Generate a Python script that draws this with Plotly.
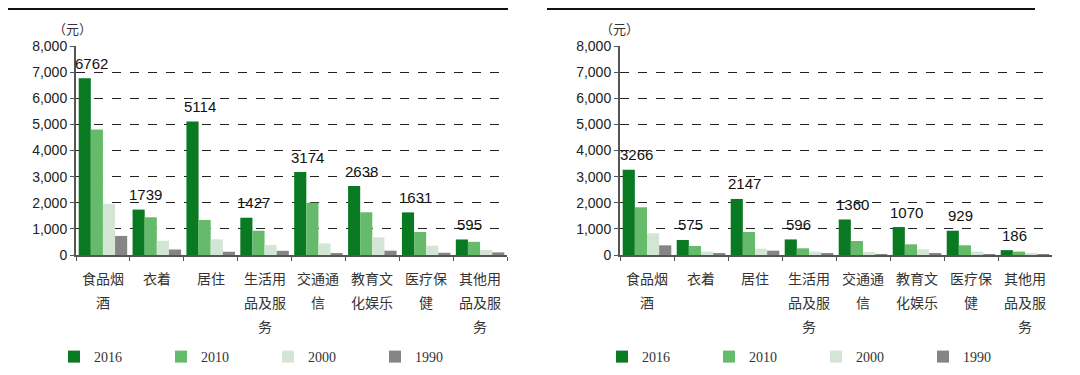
import plotly.graph_objects as go

categories = ["食品烟酒", "衣着", "居住", "生活用品及服务", "交通通信", "教育文化娱乐", "医疗保健", "其他用品及服务"]
label_lines = [["食品烟", "酒"], ["衣着"], ["居住"], ["生活用", "品及服", "务"],
               ["交通通", "信"], ["教育文", "化娱乐"], ["医疗保", "健"], ["其他用", "品及服", "务"]]
years = ["2016", "2010", "2000", "1990"]

urban_2016 = [6762, 1739, 5114, 1427, 3174, 2638, 1631, 595]
urban_2010 = [4800, 1444, 1340, 930, 2000, 1636, 880, 505]
urban_2000 = [1960, 545, 600, 385, 445, 675, 355, 195]
urban_1990 = [730, 210, 125, 160, 60, 165, 85, 100]

rural_2016 = [3266, 575, 2147, 596, 1360, 1070, 929, 186]
rural_2010 = [1826, 345, 880, 256, 536, 409, 371, 130]
rural_2000 = [830, 130, 240, 130, 120, 216, 130, 40]
rural_1990 = [370, 60, 165, 50, 20, 50, 20, 10]

y_ticks = [0, 1000, 2000, 3000, 4000, 5000, 6000, 7000, 8000]
unit_label = "（元）"

colors = ["#0a7a22", "#66bb6a", "#d3e6d6", "#858585"]

CJK = "Noto Sans CJK SC"
NUM = "Liberation Sans, Arial"

# page body has an 8px margin: figure is placed at (8, 8)
OFF = 8
W, H = 1080 - OFF, 375 - OFF


def px(X):
    return (X - OFF) / W


def py(Y):
    return 1 - (Y - OFF) / H


fig = go.Figure()

panels = [
    ("x", "y", "legend", [urban_2016, urban_2010, urban_2000, urban_1990]),
    ("x2", "y2", "legend2", [rural_2016, rural_2010, rural_2000, rural_1990]),
]

annotations = []
for xa, ya, lg, series in panels:
    for k, (yr, vals) in enumerate(zip(years, series)):
        fig.add_trace(go.Bar(x=categories, y=vals, name=yr, marker_color=colors[k],
                             marker_line_width=0, xaxis=xa, yaxis=ya, legend=lg,
                             hoverinfo="skip"))
    # value labels for the 2016 series
    for cat, v in zip(categories, series[0]):
        annotations.append(dict(x=cat, y=v, xref=xa, yref=ya, text=str(v),
                                showarrow=False, yanchor="middle", xanchor="center",
                                xshift=-11, yshift=15,
                                font=dict(family=NUM, size=15, color="#111")))

for xa, ya in [("x", "y"), ("x2", "y2")]:
    for cat, lines in zip(categories, label_lines):
        for j, line in enumerate(lines):
            annotations.append(dict(x=cat, y=0, xref=xa, yref=ya, text=line,
                                    showarrow=False, yanchor="middle", xanchor="center",
                                    yshift=-(23 + 24 * j),
                                    font=dict(family=CJK, size=14, color="#333")))

for ux in (72, 619):
    annotations.append(dict(x=px(ux), y=py(29), xref="paper", yref="paper",
                            xanchor="center", yanchor="middle",
                            text=unit_label, showarrow=False,
                            font=dict(family=CJK, size=13, color="#333")))

xaxis_common = dict(type="category", showline=True, linecolor="#555", linewidth=1.5,
                    ticks="outside", tickson="boundaries", ticklen=4, tickcolor="#555",
                    showticklabels=False, showgrid=False, range=[-0.5, 7.5])
yaxis_common = dict(range=[0, 8000], tickvals=y_ticks, tickformat=",",
                    showgrid=True, griddash="dash", gridcolor="#222", gridwidth=1,
                    showline=True, linecolor="#555", linewidth=2,
                    ticks="outside", ticklen=4, tickcolor="#555",
                    tickfont=dict(family="Liberation Sans, Arial", size=14, color="#222"),
                    zeroline=False)

legend_common = dict(orientation="h", yanchor="middle", xanchor="left", y=py(357),
                     entrywidth=62, bgcolor="rgba(0,0,0,0)",
                     font=dict(family="Liberation Serif, Times New Roman", size=14, color="#333"))

fig.update_layout(
    width=W, height=H, autosize=False,
    margin=dict(l=0, r=0, t=0, b=0, autoexpand=False),
    paper_bgcolor="white", plot_bgcolor="white",
    barmode="group", bargap=0.1, bargroupgap=0,
    xaxis=dict(domain=[px(76), px(507)], anchor="y", **xaxis_common),
    yaxis=dict(domain=[py(255), py(46)], anchor="x", **yaxis_common),
    xaxis2=dict(domain=[px(620), px(1052)], anchor="y2", **xaxis_common),
    yaxis2=dict(domain=[py(255), py(46)], anchor="x2", **yaxis_common),
    legend=dict(x=px(54), **legend_common),
    legend2=dict(x=px(602), **legend_common),
    annotations=annotations,
    shapes=[
        dict(type="line", xref="paper", yref="paper", x0=px(8), x1=px(508),
             y0=py(9), y1=py(9), line=dict(color="#111", width=2)),
        dict(type="line", xref="paper", yref="paper", x0=px(547), x1=px(1035),
             y0=py(9), y1=py(9), line=dict(color="#111", width=2)),
    ],
)

fig.write_html("out.html")
